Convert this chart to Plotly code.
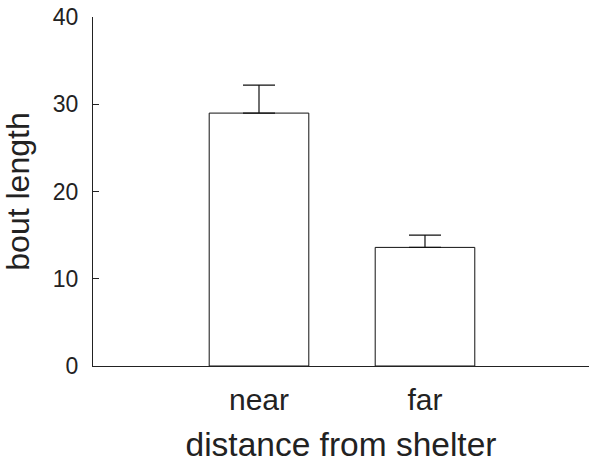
import plotly.graph_objects as go

categories = ["near", "far"]
positions = [1, 2]
bout_length = [29.0, 13.6]
sem = [3.2, 1.4]
y_ticks = [0, 10, 20, 30, 40]

fig = go.Figure()
fig.add_trace(go.Bar(
    x=positions, y=bout_length, width=0.6,
    marker=dict(color="white", line=dict(color="#111111", width=1)),
    error_y=dict(type="data", symmetric=False, array=sem, arrayminus=[0, 0],
                 color="#111111", thickness=1.2, width=16),
    hoverinfo="skip",
))

font = "Liberation Sans, Arial, sans-serif"
fig.update_layout(
    width=589, height=463,
    margin=dict(l=93, r=0, t=17, b=97, autoexpand=False),
    plot_bgcolor="white", paper_bgcolor="white",
    showlegend=False,
    font=dict(family=font, color="#222222"),
    xaxis=dict(
        range=[0, 2.988], tickvals=positions, ticktext=categories,
        showline=True, linecolor="#222222", linewidth=1.2,
        ticks="", showgrid=False, zeroline=False, automargin=False,
        tickfont=dict(size=30), ticklabelstandoff=7,
        title=dict(text="distance from shelter", font=dict(size=33.5), standoff=30),
    ),
    yaxis=dict(
        range=[0, 40.02], tickvals=y_ticks,
        showline=True, linecolor="#222222", linewidth=1.2,
        ticks="inside", ticklen=6, tickcolor="#222222",
        showgrid=False, zeroline=False, automargin=False,
        tickfont=dict(size=23), ticklabelstandoff=9, ticklabeloverflow="allow",
        title=dict(text="bout length", font=dict(size=32), standoff=16),
    ),
)
# remove the browser's default 8px body margin so the figure sits at the page corner
fig.write_html("out.html", config={"displayModeBar": False},
               post_script="document.body.style.margin='0';")
